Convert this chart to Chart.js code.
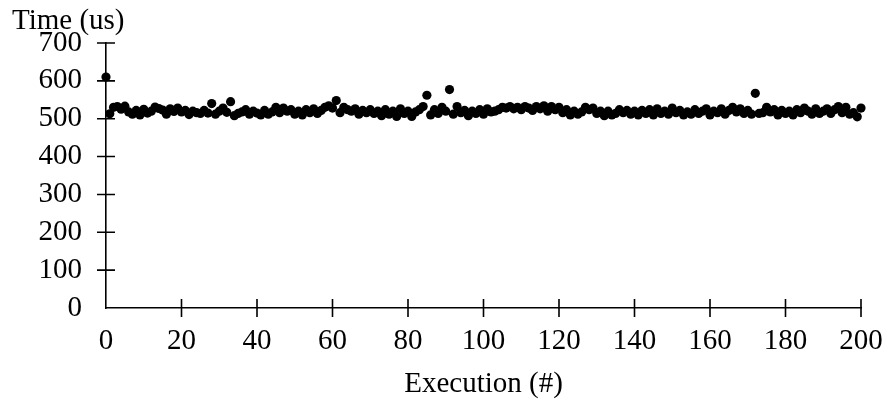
<!DOCTYPE html>
<html>
<head>
<meta charset="utf-8">
<script src="https://cdn.jsdelivr.net/npm/chart.js@4"></script>
<style>
  body { margin: 0; background: #fff; }
</style>
</head>
<body>
<canvas id="chart" width="888" height="405"></canvas>
<script>
// Run time of each execution, in microseconds
const times = [
  610, 513, 530, 532, 525, 533, 518, 512, 522, 510,
  525, 515, 520, 531, 527, 523, 512, 526, 519, 528,
  518, 522, 511, 520, 516, 514, 522, 515, 540, 512,
  520, 528, 517, 545, 508, 514, 518, 524, 512, 520,
  515, 510, 522, 512, 518, 530, 516, 528, 520, 524,
  512, 520, 510, 524, 516, 526, 514, 522, 530, 534,
  528, 548, 516, 530, 524, 520, 526, 512, 522, 516,
  524, 514, 520, 508, 524, 512, 520, 506, 526, 514,
  520, 506, 518, 524, 532, 562, 510, 524, 514, 530,
  520, 577, 512, 532, 516, 522, 508, 520, 514, 524,
  512, 526, 518, 520, 524, 530, 528, 532, 526, 530,
  524, 532, 528, 522, 532, 526, 534, 520, 532, 524,
  530, 516, 524, 510, 520, 512, 518, 530, 524, 528,
  514, 520, 508, 520, 510, 514, 524, 516, 522, 512,
  520, 510, 522, 514, 524, 510, 526, 514, 520, 512,
  528, 516, 522, 510, 518, 512, 524, 514, 520, 526,
  510, 520, 516, 526, 512, 522, 530, 518, 526, 514,
  522, 512, 567, 514, 516, 530, 518, 524, 510, 522,
  514, 520, 510, 524, 516, 528, 520, 512, 526, 514,
  520, 526, 514, 524, 532, 516, 530, 512, 516, 505,
  528
];
const executions = times.map((_, i) => i);

const xTicks = [0, 20, 40, 60, 80, 100, 120, 140, 160, 180, 200];
const yTicks = [0, 100, 200, 300, 400, 500, 600, 700];

const FONT = "Liberation Serif";
const FONT_SIZE = 29;

// tick marks that cross the axis lines, plus the y title on top
const axisDecor = {
  id: "axisDecor",
  afterDraw(chart) {
    const ctx = chart.ctx;
    const xs = chart.scales.x;
    const ys = chart.scales.y;
    const area = chart.chartArea;
    ctx.save();
    ctx.strokeStyle = "#000";
    ctx.lineWidth = 1.6;
    ctx.beginPath();
    xTicks.forEach(v => {
      if (v === 0) return;
      const px = xs.getPixelForValue(v);
      ctx.moveTo(px, area.bottom - 9);
      ctx.lineTo(px, area.bottom + 9);
    });
    yTicks.forEach(v => {
      if (v === 0) return;
      const py = ys.getPixelForValue(v);
      ctx.moveTo(area.left - 9, py);
      ctx.lineTo(area.left + 9, py);
    });
    ctx.stroke();

    ctx.fillStyle = "#000";
    ctx.font = FONT_SIZE + "px '" + FONT + "'";
    ctx.textAlign = "left";
    ctx.textBaseline = "alphabetic";
    ctx.fillText("Time (us)", 12, 29);
    ctx.restore();
  }
};

new Chart(document.getElementById("chart").getContext("2d"), {
  type: "scatter",
  data: {
    datasets: [{
      data: executions.map((x, i) => ({ x: x, y: times[i] })),
      backgroundColor: "#000",
      borderColor: "#000",
      pointRadius: 4.6,
      pointBorderWidth: 0,
      clip: false
    }]
  },
  options: {
    responsive: false,
    animation: false,
    layout: { padding: { top: 43, right: 27, bottom: 0, left: 0 } },
    plugins: {
      legend: { display: false },
      tooltip: { enabled: false }
    },
    scales: {
      x: {
        type: "linear",
        min: 0,
        max: 200,
        afterFit: s => {
          s.height = 97;
          s.paddingLeft = 0;
          s.paddingRight = 0;
        },
        afterBuildTicks: s => { s.ticks = xTicks.map(v => ({ value: v })); },
        grid: { display: false, drawTicks: false },
        border: { display: true, color: "#000", width: 1.6 },
        ticks: {
          color: "#000",
          padding: 16,
          maxRotation: 0,
          font: { family: FONT, size: FONT_SIZE }
        },
        title: {
          display: true,
          text: "Execution (#)",
          color: "#000",
          font: { family: FONT, size: FONT_SIZE },
          padding: { top: 0, bottom: 3 }
        }
      },
      y: {
        type: "linear",
        min: 0,
        max: 700,
        afterFit: s => {
          s.width = 106;
          s.paddingTop = 0;
          s.paddingBottom = 0;
        },
        afterBuildTicks: s => { s.ticks = yTicks.map(v => ({ value: v })); },
        grid: { display: false, drawTicks: false },
        border: { display: true, color: "#000", width: 1.6 },
        ticks: {
          color: "#000",
          padding: 24,
          font: { family: FONT, size: FONT_SIZE }
        }
      }
    }
  },
  plugins: [axisDecor]
});
</script>
</body>
</html>
